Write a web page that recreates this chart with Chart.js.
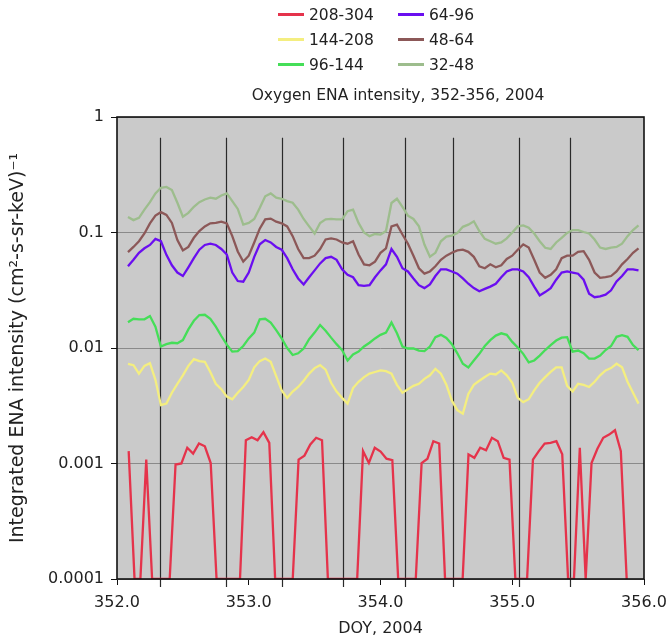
<!DOCTYPE html>
<html>
<head>
<meta charset="utf-8">
<title>Oxygen ENA intensity, 352-356, 2004</title>
<script src="https://cdn.jsdelivr.net/npm/chart.js@4.4.1/dist/chart.umd.min.js"></script>
<style>
    body { margin: 0; background: #fff; }
    #wrap { position: relative; width: 668px; height: 640px; font-family: "DejaVu Sans", Verdana, sans-serif; color: #222; }
    #chartTitle { position: absolute; left: 398px; top: 86px; transform: translateX(-50%); font-size: 15.5px; white-space: nowrap; }
    #legend { position: absolute; left: 278px; top: 2px; display: grid; grid-template-columns: 120px 100px; grid-auto-flow: column; grid-template-rows: 25px 25px 25px; font-size: 15.5px; }
    #legend .item { display: flex; align-items: center; }
    #legend .swatch { width: 26px; height: 3px; margin-right: 5px; }
</style>
</head>
<body>
<div id="wrap">
    <canvas id="enaChart" width="668" height="640"></canvas>
    <div id="legend"></div>
    <div id="chartTitle">Oxygen ENA intensity, 352-356, 2004</div>
</div>
<script>
// --- Data ---
const seriesNames = ['208-304', '144-208', '96-144', '64-96', '48-64', '32-48'];
const seriesColors = ['#e5334b', '#f4ee80', '#45de58', '#6a0ef0', '#8c5858', '#9dbd8d'];

// hourly samples for the smooth channels: DOY 352 + h/24, h = 2..95
const hourStart = 2, hourEnd = 95;

const e32_48 = [0.136,0.128,0.134,0.158,0.183,0.218,0.244,0.248,0.233,0.181,0.137,0.148,0.167,0.183,0.193,0.200,0.196,0.209,0.218,0.187,0.160,0.117,0.121,0.131,0.163,0.206,0.218,0.200,0.196,0.187,0.181,0.158,0.131,0.113,0.098,0.121,0.130,0.131,0.130,0.130,0.153,0.158,0.121,0.100,0.093,0.097,0.096,
    0.103,0.18,0.196,0.167,0.140,0.131,0.113,0.0787,0.0616,0.0667,0.084,0.092,0.094,0.099,0.112,0.117,0.125,0.103,0.088,0.084,0.080,0.082,0.089,0.100,0.113,0.115,0.110,0.098,0.084,0.0737,0.072,0.082,0.090,0.099,0.105,0.105,0.101,0.098,0.087,0.074,0.072,0.074,0.075,0.080,0.093,0.105,0.115];

const e48_64 = [0.0676,0.075,0.084,0.098,0.120,0.140,0.150,0.142,0.121,0.086,0.070,0.075,0.090,0.103,0.113,0.120,0.121,0.124,0.120,0.093,0.0685,0.0561,0.063,0.082,0.108,0.130,0.132,0.124,0.120,0.113,0.093,0.072,0.060,0.060,0.063,0.072,0.087,0.089,0.087,0.082,0.080,0.084,0.0645,0.053,0.052,0.056,0.0667,
    0.073,0.113,0.117,0.096,0.080,0.063,0.049,0.044,0.046,0.051,0.058,0.063,0.0667,0.070,0.071,0.068,0.0616,0.051,0.049,0.053,0.050,0.052,0.059,0.063,0.071,0.079,0.074,0.058,0.045,0.0405,0.043,0.048,0.060,0.063,0.063,0.068,0.069,0.058,0.045,0.0405,0.041,0.042,0.046,0.053,0.059,0.0667,0.073];

const e64_96 = [0.051,0.058,0.0667,0.073,0.078,0.088,0.084,0.064,0.052,0.045,0.042,0.050,0.060,0.071,0.078,0.080,0.078,0.072,0.0645,0.045,0.038,0.0375,0.045,0.0616,0.079,0.086,0.082,0.075,0.071,0.060,0.048,0.040,0.0355,0.041,0.047,0.054,0.060,0.0616,0.058,0.048,0.043,0.041,0.035,0.0345,0.035,0.041,0.047,
    0.053,0.072,0.0616,0.049,0.046,0.040,0.035,0.033,0.0355,0.042,0.048,0.048,0.046,0.044,0.040,0.036,0.033,0.031,0.0325,0.034,0.036,0.041,0.046,0.048,0.048,0.046,0.041,0.034,0.0285,0.0305,0.033,0.039,0.045,0.046,0.045,0.044,0.039,0.0295,0.0275,0.028,0.029,0.0316,0.0377,0.042,0.048,0.048,0.047];

const e96_144 = [0.0167,0.0179,0.0177,0.0177,0.0189,0.0153,0.0103,0.0108,0.0111,0.0110,0.0117,0.0145,0.0172,0.0193,0.0194,0.0179,0.0153,0.0127,0.0107,0.0093,0.0094,0.0104,0.0121,0.0136,0.0177,0.0179,0.0166,0.0143,0.0121,0.0100,0.0087,0.0090,0.0099,0.0119,0.0136,0.0158,0.0141,0.0123,0.0108,0.0096,0.0078,0.0088,0.0093,0.0103,0.0111,0.0121,0.0130,
    0.0136,0.0166,0.0134,0.0103,0.0099,0.0099,0.0095,0.0094,0.0103,0.0124,0.0130,0.0122,0.0108,0.0090,0.0073,0.0068,0.0078,0.0089,0.0104,0.0117,0.0128,0.0134,0.0130,0.0113,0.0101,0.0089,0.0075,0.0078,0.0086,0.0096,0.0106,0.0116,0.0123,0.0124,0.0093,0.0095,0.0090,0.0081,0.0081,0.0086,0.0096,0.0104,0.0125,0.0129,0.0125,0.0106,0.0096];

const e144_208 = [0.0073,0.0071,0.0060,0.0070,0.0074,0.0053,0.0032,0.0033,0.0041,0.0049,0.0058,0.0070,0.0080,0.0077,0.0076,0.0062,0.0049,0.0044,0.0038,0.0036,0.0041,0.0046,0.0053,0.0068,0.0077,0.0081,0.0076,0.0057,0.0043,0.0037,0.0042,0.0046,0.0052,0.0060,0.0067,0.0071,0.0065,0.0050,0.0042,0.0037,0.0033,0.0045,0.0051,0.0056,0.0060,0.0062,0.0064,
    0.0063,0.0060,0.0048,0.0041,0.0044,0.0047,0.0049,0.0054,0.0058,0.0066,0.0060,0.0048,0.0035,0.0029,0.0027,0.0040,0.0048,0.0052,0.0056,0.0060,0.0059,0.0064,0.0058,0.0050,0.0037,0.0034,0.0036,0.0043,0.0050,0.0056,0.0062,0.0068,0.0068,0.0047,0.0042,0.0049,0.0048,0.0046,0.0051,0.0058,0.0064,0.0067,0.0073,0.0068,0.0051,0.0041,0.0033];

// highest channel has its own (slightly coarser) sampling; 0.0001 = at/below the floor
const redStart = 352.0886, redStep = 0.04447;
const e208_304 = [0.00128,0.0001,0.0001,0.00108,0.0001,0.0001,0.0001,0.0001,0.00098,0.0010,
    0.00137,0.00122,0.00149,0.00141,0.00101,0.0001,0.0001,0.0001,0.0001,0.0001,
    0.00159,0.00169,0.00159,0.00187,0.00151,0.0001,0.0001,0.0001,0.0001,0.00108,
    0.00117,0.00146,0.00167,0.00159,0.0001,0.0001,0.0001,0.0001,0.0001,0.0001,
    0.00128,0.00101,0.00137,0.00127,0.00110,0.00107,0.0001,0.0001,0.0001,0.0001,
    0.00101,0.00110,0.00156,0.00149,0.0001,0.0001,0.0001,0.0001,0.00120,0.00112,
    0.00137,0.00130,0.00167,0.00156,0.00112,0.00108,0.0001,0.0001,0.0001,0.00108,
    0.00128,0.00149,0.00151,0.00156,0.00120,0.0001,0.0001,0.00137,0.0001,0.00101,
    0.00134,0.00167,0.00178,0.00194,0.00128,0.0001];

// vertical reference lines (DOY)
const markerDays = [352.328, 352.826, 353.255, 353.714, 354.189, 354.551, 355.053, 355.439];
const markerTop = 0.66;

const xTicks = [352, 353, 354, 355, 356];
const xTickLabels = ['352.0', '353.0', '354.0', '355.0', '356.0'];
const yTicks = [1, 0.1, 0.01, 0.001, 0.0001];
const yTickLabels = ['1', '0.1', '0.01', '0.001', '0.0001'];

document.addEventListener('DOMContentLoaded', () => {

    const hourDoy = [];
    for (let h = hourStart; h <= hourEnd; h++) hourDoy.push(352 + h / 24);
    const redDoy = e208_304.map((v, k) => redStart + k * redStep);

    const toPoints = (xs, ys) => ys.map((y, i) => ({ x: xs[i], y: y }));

    const seriesData = [
        toPoints(redDoy, e208_304),
        toPoints(hourDoy, e144_208),
        toPoints(hourDoy, e96_144),
        toPoints(hourDoy, e64_96),
        toPoints(hourDoy, e48_64),
        toPoints(hourDoy, e32_48)
    ];

    const datasets = seriesNames.map((name, i) => ({
        label: name,
        data: seriesData[i],
        borderColor: seriesColors[i],
        backgroundColor: seriesColors[i],
        borderWidth: 2.3,
        pointRadius: 0,
        tension: 0
    }));

    // --- legend (two columns, like the original) ---
    const legend = document.getElementById('legend');
    seriesNames.forEach((name, i) => {
        const item = document.createElement('div');
        item.className = 'item';
        item.innerHTML = '<span class="swatch" style="background:' + seriesColors[i] + '"></span><span>' + name + '</span>';
        legend.appendChild(item);
    });

    // grey plot background
    const plotBg = {
        id: 'plotBg',
        beforeDraw(chart) {
            const { ctx, chartArea: a } = chart;
            ctx.save();
            ctx.fillStyle = '#cacaca';
            ctx.fillRect(a.left, a.top, a.right - a.left, a.bottom - a.top);
            ctx.restore();
        }
    };

    // black vertical marker lines
    const markers = {
        id: 'markers',
        beforeDatasetsDraw(chart) {
            const { ctx, chartArea: a, scales } = chart;
            const yTop = scales.y.getPixelForValue(markerTop);
            ctx.save();
            ctx.strokeStyle = '#2a2a2a';
            ctx.lineWidth = 1.2;
            markerDays.forEach(d => {
                const x = Math.round(scales.x.getPixelForValue(d)) + 0.5;
                ctx.beginPath();
                ctx.moveTo(x, yTop);
                ctx.lineTo(x, a.bottom + 8);
                ctx.stroke();
            });
            ctx.restore();
        }
    };

    // frame around the plot
    const frame = {
        id: 'frame',
        afterDatasetsDraw(chart) {
            const { ctx, chartArea: a } = chart;
            ctx.save();
            ctx.strokeStyle = '#111';
            ctx.lineWidth = 1.6;
            ctx.strokeRect(a.left, a.top, a.right - a.left, a.bottom - a.top);
            ctx.restore();
        }
    };

    const font = { family: '"DejaVu Sans", Verdana, sans-serif', size: 16 };

    new Chart(document.getElementById('enaChart'), {
        type: 'line',
        data: { datasets: datasets },
        plugins: [plotBg, markers, frame],
        options: {
            responsive: false,
            animation: false,
            layout: { padding: { top: 117, right: 24, left: 0, bottom: 0 } },
            plugins: {
                legend: { display: false },
                title: { display: false },
                tooltip: { enabled: false }
            },
            scales: {
                x: {
                    type: 'linear',
                    min: 352,
                    max: 356,
                    afterBuildTicks: axis => { axis.ticks = xTicks.map(v => ({ value: v })); },
                    afterFit: axis => {
                        // fixed box so the plot area spans 117..644
                        axis.height = 61;
                        axis.paddingLeft = 0;
                        axis.paddingRight = 0;
                    },
                    ticks: {
                        color: '#222',
                        font: font,
                        padding: 8,
                        maxRotation: 0,
                        callback: (v, i) => xTickLabels[i]
                    },
                    grid: { drawOnChartArea: false, tickColor: '#111', tickLength: 6 },
                    border: { display: false },
                    title: { display: true, text: 'DOY, 2004', color: '#222', font: font, padding: { top: 0, bottom: 2 } }
                },
                y: {
                    type: 'logarithmic',
                    min: 0.0001,
                    max: 1,
                    afterBuildTicks: axis => { axis.ticks = yTicks.map(v => ({ value: v })); },
                    afterFit: axis => { axis.width = 117; },
                    ticks: {
                        color: '#222',
                        font: font,
                        padding: 7,
                        callback: (v, i) => yTickLabels[i]
                    },
                    grid: { color: '#8a8a8a', tickColor: '#111', tickLength: 6 },
                    border: { display: false },
                    title: {
                        display: true,
                        text: 'Integrated ENA intensity (cm²-s-sr-keV)⁻¹',
                        color: '#222',
                        font: { family: font.family, size: 19 },
                        padding: { top: 7, bottom: 0 }
                    }
                }
            }
        }
    });
});
</script>
</body>
</html>
